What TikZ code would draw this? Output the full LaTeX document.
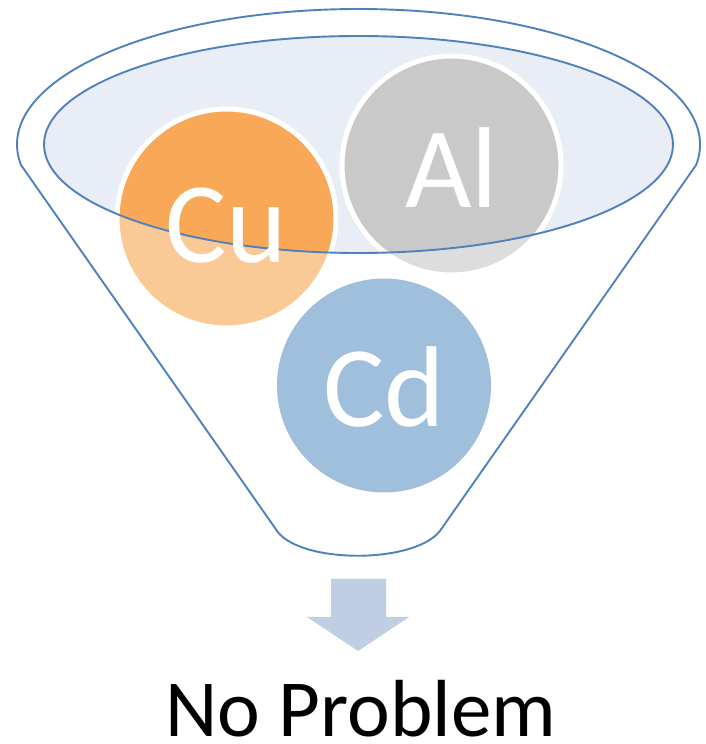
\documentclass[tikz,border=0pt]{standalone}
\usepackage{fontspec}
\setmainfont{Carlito}
\definecolor{fblue}{RGB}{79,129,189}
\definecolor{ellfill}{RGB}{233,237,245}
\definecolor{cuorange}{RGB}{249,168,87}
\definecolor{algray}{RGB}{201,201,201}
\definecolor{cdblue}{RGB}{102,152,200}
\definecolor{arrowc}{RGB}{191,206,227}
\newcommand{\bigletters}{\fontsize{115}{115}\selectfont}
\newcommand{\labelfont}{\fontsize{81}{81}\selectfont}
\begin{document}
\begin{tikzpicture}[x=1pt,y=1pt,
  ball/.style={circle, inner sep=0pt, minimum size=219pt, draw=white, line width=5pt},
  balltxt/.style={anchor=base, text=white, font=\bigletters, inner sep=0pt},
  outline/.style={draw=fblue, line width=1.9pt}]
\useasboundingbox (0,0) rectangle (705,744);
\fill[white] (0,0) rectangle (705,744);
% inner ellipse fill
\fill[ellfill] (358.5,599.5) ellipse[x radius=314.5pt, y radius=108.5pt];
% balls
\node[ball, fill=cuorange] (cu) at (226.5,525.5) {};
\node[ball, fill=algray] (al) at (451.5,578.5) {};
\node[ball, fill=cdblue, draw=none, minimum size=214pt] (cd) at (384,358.5) {};
% funnel body veil outside the opening
\fill[white, opacity=0.38, even odd rule]
  (21,579) arc[start angle=188.7, end angle=-8.7, x radius=341.5pt, y radius=135.5pt]
  -- (442,216) .. controls (420,179) and (295,179) .. (275,216) -- cycle
  (358.5,599.5) ellipse[x radius=314.5pt, y radius=108.5pt];
% outlines
\path[outline]
  (21,579) arc[start angle=188.7, end angle=-8.7, x radius=341.5pt, y radius=135.5pt]
  -- (442,216) .. controls (420,179) and (295,179) .. (275,216) -- cycle;
\path[outline] (358.5,599.5) ellipse[x radius=314.5pt, y radius=108.5pt];
% letters
\node[balltxt] (cut) at (226.5,481) {Cu};
\node[balltxt] (alt) at (451.5,536) {Al};
\node[balltxt] (cdt) at (384,317) {Cd};
% arrow
\fill[arrowc] (331,165) -- (386,165) -- (386,127) -- (409,127) -- (358,93) -- (307,127) -- (331,127) -- cycle;
% label
\node[anchor=base, font=\labelfont, inner sep=0pt] (label) at (361,7) {No Problem};
\end{tikzpicture}
\end{document}
